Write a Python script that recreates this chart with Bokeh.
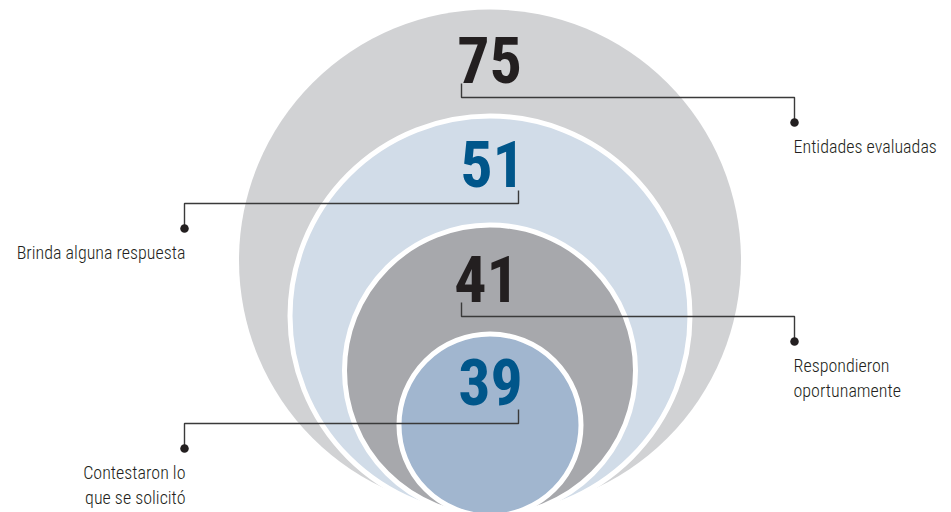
from bokeh.plotting import figure
from bokeh.models import Range1d, ColumnDataSource
from bokeh.core.properties import value
from bokeh.embed import file_html
from bokeh.resources import INLINE

# ---- data ----
values = [75, 51, 41, 39]
labels = ["Entidades evaluadas", "Brinda alguna respuesta",
          "Respondieron\noportunamente", "Contestaron lo\nque se solicitó"]
label_side = ["right", "left", "right", "left"]

# ---- layout / style ----
fills = ["#d1d2d4", "#d1dce8", "#a7a8ac", "#a1b6cf"]
num_colors = ["#231f20", "#00568a", "#231f20", "#00568a"]
radii = [251, 200, 145.5, 91]
stroke = [0, 5, 5, 5]
cx = 489.5
tangent_y = 515.5
num_size = 64
num_baseline = [83, 187, 302, 405]
num_shift = 0.37 * num_size  # renderer offset of the alphabetic baseline
num_x = [489, 492, 486, 490]
leader_x0 = [461, 518, 461, 518]
leader_y0 = [83, 190, 302, 409]
leader_y1 = [97, 203, 316, 423]
side_x = {"right": 794, "left": 184}
dot_drop = 25
NUM_FONT = value("Roboto Condensed, Roboto, sans-serif")
LAB_FONT = value("Roboto Condensed Light, Roboto Condensed, Roboto, sans-serif")

W, H = 951, 512
p = figure(width=W, height=H, output_backend="svg", toolbar_location=None,
           x_range=Range1d(0, W), y_range=Range1d(H, 0),
           min_border=0, x_axis_location=None, y_axis_location=None,
           outline_line_color=None, background_fill_color="white")
p.grid.visible = False

# circles (outer first)
for i, v in enumerate(values):
    cy = tangent_y - radii[i] if i > 0 else 260
    p.circle(x=[cx], y=[cy], radius=radii[i], fill_color=fills[i],
             line_color="white" if stroke[i] else None,
             line_width=stroke[i] if stroke[i] else 1)

# leaders
xs, ys, dx, dy = [], [], [], []
for i, v in enumerate(values):
    ex = side_x[label_side[i]]
    xs.append([leader_x0[i], leader_x0[i], ex, ex])
    ys.append([leader_y0[i], leader_y1[i], leader_y1[i], leader_y1[i] + dot_drop])
    dx.append(ex)
    dy.append(leader_y1[i] + dot_drop)
p.multi_line(xs=xs, ys=ys, line_color="#3a3a3a", line_width=1.4)
p.scatter(x=dx, y=dy, size=8.5, fill_color="#231f20", line_color=None)

# numbers
p.text(x=num_x, y=[b - num_shift for b in num_baseline], text=[str(v) for v in values],
       text_color=num_colors, text_font_size=f"{num_size}px", text_font_style="bold",
       text_font=NUM_FONT, text_align="center", text_baseline="alphabetic")

# labels
lx, ly, lt, la = [], [], [], []
for i, lab in enumerate(labels):
    lines = lab.split("\n")
    base = dy[i] + 24
    for j, ln in enumerate(lines):
        if label_side[i] == "right":
            lx.append(side_x["right"] - 1)
            la.append("left")
        else:
            lx.append(side_x["left"] + 1)
            la.append("right")
        ly.append(base + j * 25)
        lt.append(ln)
src = ColumnDataSource(dict(x=lx, y=ly, text=lt, align=la))
p.text(x="x", y="y", text="text", source=src, text_align="align",
       text_color="#231f20", text_font_size="18px", text_font=LAB_FONT,
       text_baseline="alphabetic")

open("out.html", "w").write(file_html(p, INLINE))
